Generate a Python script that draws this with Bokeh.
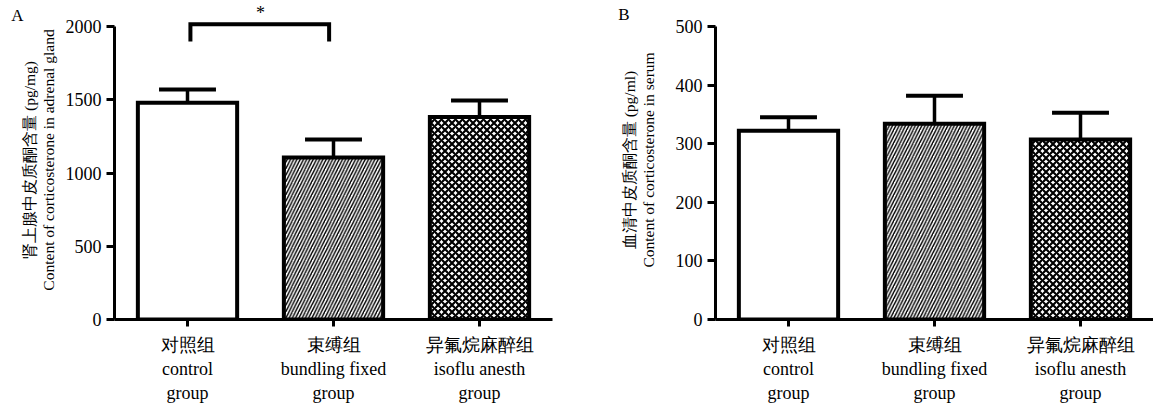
from bokeh.plotting import figure
from bokeh.layouts import row
from bokeh.models import FixedTicker, LinearAxis
from bokeh.core.properties import value
from bokeh.embed import file_html
from bokeh.resources import INLINE

# ---- data ----
group_cn = ["对照组", "束缚组", "异氟烷麻醉组"]
group_en = ["control\ngroup", "bundling fixed\ngroup", "isoflu anesth\ngroup"]
adrenal_mean = [1480, 1106, 1382]
adrenal_upper = [1570, 1229, 1495]
serum_mean = [322, 334, 307]
serum_upper = [345, 382, 353]
adrenal_ticks = [0, 500, 1000, 1500, 2000]
serum_ticks = [0, 100, 200, 300, 400, 500]
adrenal_title = "肾上腺中皮质酮含量 (pg/mg)\nContent of corticosterone in adrenal gland"
serum_title = "血清中皮质酮含量 (pg/ml)\nContent of corticosterone in serum"
sig_pair = (0, 1)
sig_top = 2015
sig_leg = 1898
sig_text = "*"

FONT = "Liberation Serif"
FRAME_W = 438
ZERO_PX = 319   # page y of value 0
AXIS_PX = 293   # px from 0 to last tick


def bar_style(i):
    if i == 0:
        return dict(fill_color="white")
    if i == 1:
        return dict(fill_color="white", hatch_pattern="right_diagonal_line",
                    hatch_color="black", hatch_weight=1.4, hatch_scale=6.5)
    return dict(fill_color="white", hatch_pattern="diagonal_cross",
                hatch_color="black", hatch_weight=2.2, hatch_scale=7)


def make_panel(mean, upper, ticks, title, letter, left, right, label_standoff,
               letter_y_px, letter_standoff):
    ytop = ticks[-1]
    ppu = AXIS_PX / ytop
    y_end = ZERO_PX / ppu
    p = figure(frame_width=FRAME_W, frame_height=ZERO_PX,
               x_range=(-0.5, 2.5), y_range=(0, y_end),
               output_backend="svg", toolbar_location=None,
               min_border_left=left, min_border_right=right,
               min_border_top=0, min_border_bottom=83)
    p.outline_line_color = None
    p.xgrid.visible = False
    p.ygrid.visible = False

    xs = list(range(len(mean)))
    for i, x in enumerate(xs):
        p.segment(x0=[x], y0=[mean[i]], x1=[x], y1=[upper[i]], line_color="black",
                  line_width=3.5)
        p.segment(x0=[x - 0.195], y0=[upper[i]], x1=[x + 0.195], y1=[upper[i]],
                  line_color="black", line_width=4)
        p.vbar(x=[x], top=[mean[i]], width=0.68, bottom=0, line_color="black",
               line_width=4, line_join="miter", **bar_style(i))

    for ax in (p.xaxis[0], p.yaxis[0]):
        ax.axis_line_width = 3
        ax.major_tick_line_width = 3
        ax.major_tick_in = 0
        ax.minor_tick_line_color = None
        ax.major_label_text_font = FONT
        ax.major_label_text_font_size = "18px"
        ax.major_label_text_color = "black"
    ya = p.yaxis[0]
    ya.ticker = FixedTicker(ticks=ticks)
    ya.bounds = (0, ytop)
    ya.major_tick_out = 8
    ya.major_label_standoff = 5
    ya.axis_label = title
    ya.axis_label_text_font = FONT
    ya.axis_label_text_font_size = "15.5px"
    ya.axis_label_text_font_style = "normal"
    ya.axis_label_text_color = "black"
    ya.axis_label_text_line_height = 1.1
    ya.axis_label_standoff = label_standoff

    xa = p.xaxis[0]
    xa.ticker = FixedTicker(ticks=xs)
    xa.major_tick_out = 7
    xa.major_label_standoff = 8
    xa.major_label_overrides = {x: group_cn[i] + "\n" + group_en[i] for i, x in enumerate(xs)}
    xa.major_label_text_line_height = 1.2

    # panel letter via an extra, line-less axis
    ly = (ZERO_PX - letter_y_px) / ppu
    la = LinearAxis(ticker=FixedTicker(ticks=[ly]),
                    major_label_overrides={ly: letter},
                    axis_line_color=None, major_tick_line_color=None,
                    minor_tick_line_color=None, major_label_text_font=FONT,
                    major_label_text_font_size="17px", major_label_text_color="black",
                    major_label_standoff=letter_standoff)
    p.add_layout(la, "left")
    return p, ppu


pA, ppuA = make_panel(adrenal_mean, adrenal_upper, adrenal_ticks, adrenal_title, "A",
                      114, 56, 6, 15, -12)
a, b = sig_pair
bx = [a + 0.02, a + 0.02, b - 0.03, b - 0.03]
by = [sig_leg, sig_top, sig_top, sig_leg]
pA.line(bx, by, line_color="black", line_width=4, line_join="miter")
pA.text(x=[(a + b) / 2], y=[2090], text=[sig_text], text_align="center",
        text_baseline="alphabetic", text_font=value(FONT), text_font_size="18px",
        text_color="black")

pB, ppuB = make_panel(serum_mean, serum_upper, serum_ticks, serum_title, "B",
                      107, 0, 16, 14, -18)

layout = row(pA, pB)
open("out.html", "w").write(file_html(layout, INLINE))
